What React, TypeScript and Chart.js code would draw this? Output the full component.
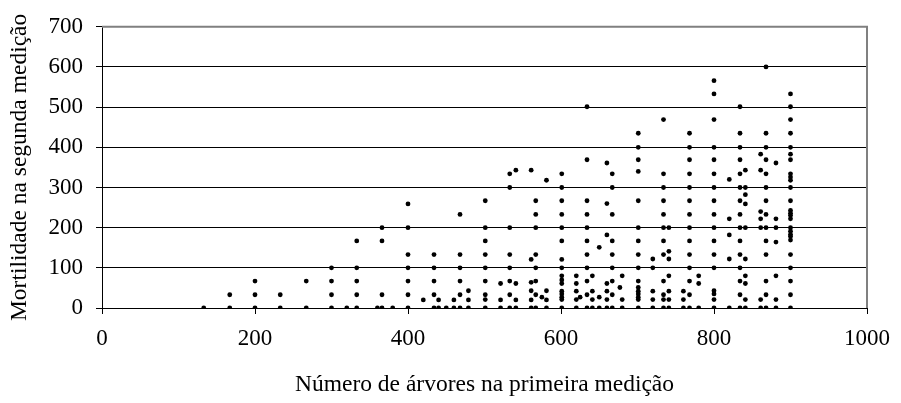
import React, { useEffect, useRef } from 'react';
import { Chart, registerables } from 'chart.js';

Chart.register(...registerables);

// Número de árvores na primeira medição (x) for each column of points
const xColumns = [
  133, 167, 200, 233, 267, 300, 320, 333, 360, 366, 380, 400, 420, 434, 440, 450, 460, 468, 479,
  501, 521, 533, 541, 561, 567, 575, 581, 601, 620, 625, 634, 641, 650, 660, 667, 677, 680,
  701, 720, 734, 741, 760, 768, 780, 800, 820, 834, 841, 861, 868, 881, 900,
];

// Mortilidade na segunda medição (y) values for each column
const yColumns = [
  [0],
  [0, 33],
  [0, 33, 67],
  [0, 33],
  [0, 67],
  [0, 33, 67, 100],
  [0],
  [0, 33, 67, 100, 167],
  [0],
  [0, 33, 167, 200],
  [0],
  [0, 33, 67, 100, 133, 200, 259],
  [20],
  [0, 33, 67, 100, 133],
  [0, 20],
  [0],
  [0, 20],
  [0, 33, 67, 100, 133, 233],
  [0, 20, 43],
  [0, 21, 33, 67, 100, 133, 167, 200, 267],
  [0, 20, 61],
  [0, 33, 67, 100, 133, 200, 300, 334],
  [0, 20, 61, 343],
  [0, 20, 43, 64, 121, 343],
  [0, 33, 67, 100, 133, 200, 233, 267],
  [27],
  [0, 20, 43, 318],
  [0, 21, 27, 35, 42, 61, 70, 80, 100, 121, 167, 200, 233, 267, 300, 334],
  [0, 21, 42, 61, 80],
  [27],
  [0, 33, 67, 100, 133, 167, 200, 233, 267, 369, 501],
  [0, 21, 42, 80],
  [0, 27, 151],
  [0, 21, 42, 61, 182, 260, 361],
  [0, 33, 67, 100, 133, 167, 233, 300, 334],
  [51],
  [0, 21, 80],
  [0, 21, 27, 35, 42, 51, 67, 100, 133, 167, 200, 267, 340, 369, 400, 435],
  [0, 21, 42, 100, 122],
  [0, 21, 33, 67, 133, 167, 200, 233, 267, 300, 334, 469],
  [0, 21, 42, 80, 122, 141, 200],
  [0, 21, 42],
  [0, 33, 67, 100, 133, 167, 200, 233, 267, 300, 334, 369, 400, 435],
  [0, 61, 80],
  [0, 21, 35, 43, 100, 133, 167, 200, 233, 267, 300, 334, 369, 400, 469, 533, 566],
  [0, 122, 182, 222, 320],
  [0, 33, 67, 100, 133, 167, 200, 233, 267, 300, 334, 369, 400, 435, 501],
  [0, 21, 61, 80, 122, 200, 259, 282, 300, 343],
  [0, 21, 200, 222, 240, 343, 383],
  [0, 33, 67, 133, 167, 200, 233, 267, 300, 334, 369, 400, 435, 600],
  [0, 21, 80, 164, 200, 222, 361],
  [0, 33, 67, 100, 133, 169, 178, 183, 191, 200, 222, 230, 236, 243, 267, 300, 318, 326, 334, 369, 383, 400, 435, 469, 501, 533],
];

const xTickValues = [0, 200, 400, 600, 800, 1000];
const yTickValues = [0, 100, 200, 300, 400, 500, 600, 700];

const xTitle = 'Número de árvores na primeira medição';
const yTitle = 'Mortilidade na segunda medição';

const FONT = 'Liberation Serif, Times New Roman, serif';

const frameBorder = {
  id: 'frameBorder',
  afterDraw(chart: any) {
    const { ctx, chartArea } = chart;
    const { left, right, top, bottom } = chartArea;
    ctx.save();
    ctx.strokeStyle = '#808080';
    ctx.lineWidth = 2;
    ctx.beginPath();
    ctx.moveTo(left, top);
    ctx.lineTo(right, top);
    ctx.lineTo(right, bottom);
    ctx.stroke();
    ctx.restore();
  },
};

export default function App() {
  const ref = useRef<HTMLCanvasElement | null>(null);

  useEffect(() => {
    if (!ref.current) return;
    const points: { x: number; y: number }[] = [];
    xColumns.forEach((x, i) => {
      yColumns[i].forEach((y) => points.push({ x, y }));
    });

    const chart = new Chart(ref.current, {
      type: 'scatter',
      data: {
        datasets: [
          {
            data: points,
            pointStyle: 'circle',
            pointRadius: 2.4,
            pointBorderWidth: 0,
            pointBackgroundColor: '#000',
            pointBorderColor: '#000',
          },
        ],
      },
      plugins: [frameBorder],
      options: {
        animation: false,
        responsive: false,
        layout: { padding: { left: 0, right: 28, top: 21, bottom: 0 } },
        plugins: { legend: { display: false }, tooltip: { enabled: false } },
        scales: {
          x: {
            type: 'linear',
            min: 0,
            max: 1000,
            afterBuildTicks: (s: any) => {
              s.ticks = xTickValues.map((v) => ({ value: v }));
            },
            afterFit: (s: any) => {
              s.height = 95;
            },
            ticks: {
              font: { family: FONT, size: 23 },
              color: '#000',
              padding: 11,
              maxRotation: 0,
              autoSkip: false,
              callback: (v: any) => String(v),
            },
            grid: { drawOnChartArea: false, drawTicks: true, tickLength: 6, color: '#000' },
            border: { color: '#000', width: 1 },
            title: {
              display: true,
              text: xTitle,
              color: '#000',
              font: { family: FONT, size: 23.5 },
              padding: { top: 0, bottom: 4 },
            },
          },
          y: {
            type: 'linear',
            min: 0,
            max: 700,
            afterBuildTicks: (s: any) => {
              s.ticks = yTickValues.map((v) => ({ value: v }));
            },
            afterFit: (s: any) => {
              s.width = 102;
            },
            ticks: {
              font: { family: FONT, size: 23 },
              color: '#000',
              padding: 13,
              autoSkip: false,
              callback: (v: any) => String(v),
            },
            grid: { color: '#000', tickLength: 6, lineWidth: 1 },
            border: { color: '#000', width: 1 },
            title: {
              display: true,
              text: yTitle,
              color: '#000',
              font: { family: FONT, size: 23.5 },
              padding: { top: 6, bottom: 0 },
            },
          },
        },
      },
    });
    return () => chart.destroy();
  }, []);

  return (
    <div style={{ position: 'absolute', left: 0, top: 0, width: 901, height: 403, background: '#fff' }}>
      <canvas ref={ref} width={901} height={403} style={{ display: 'block' }} />
    </div>
  );
}
